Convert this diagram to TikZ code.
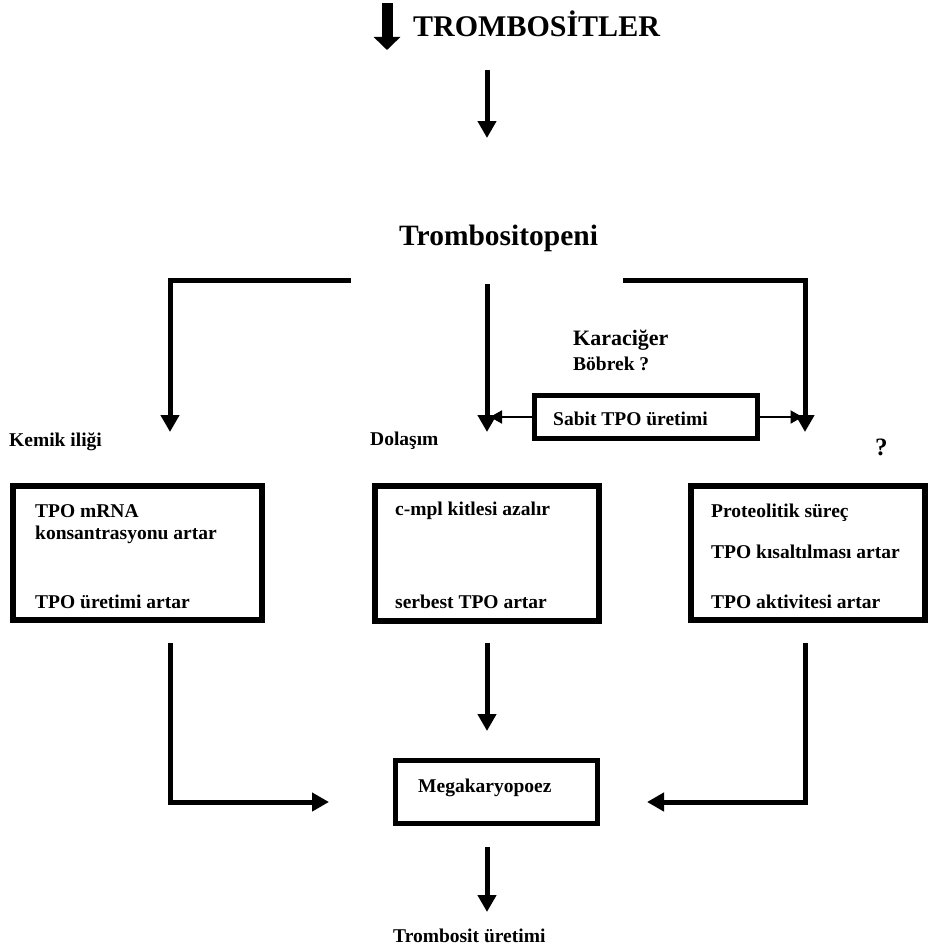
\documentclass[tikz,border=0pt]{standalone}
\usepackage{fontspec}
\setmainfont{Liberation Serif}
\usetikzlibrary{arrows.meta}
\begin{document}
\begin{tikzpicture}[x=1pt,y=-1pt,
  txt/.style={anchor=base west, inner sep=0pt, font=\fontsize{19.5}{22}\selectfont\bfseries},
  kartxt/.style={anchor=base west, inner sep=0pt, font=\fontsize{22}{25}\selectfont\bfseries},
  qtxt/.style={anchor=base west, inner sep=0pt, font=\fontsize{25}{28}\selectfont\bfseries},
  midtxt/.style={anchor=base west, inner sep=0pt, font=\fontsize{29.5}{33}\selectfont\bfseries},
  bigtxt/.style={anchor=base west, inner sep=0pt, font=\fontsize{30}{34}\selectfont\bfseries},
  bigbox/.style={draw, line width=6pt, inner sep=0pt},
  smallbox/.style={draw, line width=5pt, inner sep=0pt},
  arr/.style={line width=5pt, line join=miter, -{Triangle[width=18pt,length=17pt]}},
  tarr/.style={line width=2pt, -{Triangle[width=13pt,length=12pt]}},
  barr/.style={line width=11pt, -{Triangle[width=26pt,length=13pt]}},
]
\useasboundingbox (0,0) rectangle (930,950);

% titles
\node[bigtxt] (title) at (413,37) {TROMBOSİTLER};
\node[midtxt] (topeni) at (399,245) {Trombositopeni};

% boxes
\node[bigbox, minimum width=249pt, minimum height=134pt] (lbox) at (137.5,553) {};
\node[bigbox, minimum width=224pt, minimum height=135pt] (mbox) at (487,553.5) {};
\node[bigbox, minimum width=234pt, minimum height=134pt] (rbox) at (808,553) {};
\node[smallbox, minimum width=223pt, minimum height=43pt] (sbox) at (646,417) {};
\node[smallbox, minimum width=202pt, minimum height=63pt] (gbox) at (496.5,792) {};

% labels
\node[kartxt] (kar) at (573,345) {Karaciğer};
\node[txt] (bob) at (573,370) {Böbrek ?};
\node[txt] (sabit) at (553,425) {Sabit TPO üretimi};
\node[txt] (kemik) at (9,446) {Kemik iliği};
\node[txt] (dol) at (370,445) {Dolaşım};
\node[qtxt] (q) at (875,455) {?};

\node[txt] (l1) at (35,517) {TPO mRNA};
\node[txt] (l2) at (35,539) {konsantrasyonu artar};
\node[txt] (l3) at (35,608) {TPO üretimi artar};
\node[txt] (m1) at (395,515) {c-mpl kitlesi azalır};
\node[txt] (m2) at (395,608) {serbest TPO artar};
\node[txt] (r1) at (711,517) {Proteolitik süreç};
\node[txt] (r2) at (711,558) {TPO kısaltılması artar};
\node[txt] (r3) at (711,608) {TPO aktivitesi artar};
\node[txt] (mega) at (418,792) {Megakaryopoez};
\node[txt] (tu) at (393,942) {Trombosit üretimi};

% coordinates
\coordinate (b0s) at (387,3);
\coordinate (b0e) at (387,50);
\coordinate (a1s) at (487,70);
\coordinate (a1e) at (487,138);
\coordinate (ls) at (351,280);
\coordinate (le) at (170,432);
\coordinate (ms) at (487,284);
\coordinate (me) at (487,432);
\coordinate (rs) at (623,280);
\coordinate (re) at (805,432);
\coordinate (sl) at (490,417);
\coordinate (sr) at (802.5,417);
\coordinate (dls) at (170,643);
\coordinate (dle) at (329,802);
\coordinate (dms) at (487,643);
\coordinate (dme) at (487,731);
\coordinate (drs) at (805,643);
\coordinate (dre) at (647,802);
\coordinate (fs) at (487,847);
\coordinate (fe) at (487,912);

% connectors
\draw[barr] (b0s) -- (b0e);
\draw[arr] (a1s) -- (a1e);
\draw[arr] (ls) -| (le);
\draw[arr] (ms) -- (me);
\draw[arr] (rs) -| (re);
\draw[tarr] (sbox.west) -- (sl);
\draw[tarr] (sbox.east) -- (sr);
\draw[arr] (dls) |- (dle);
\draw[arr] (dms) -- (dme);
\draw[arr] (drs) |- (dre);
\draw[arr] (fs) -- (fe);
\end{tikzpicture}
\end{document}
